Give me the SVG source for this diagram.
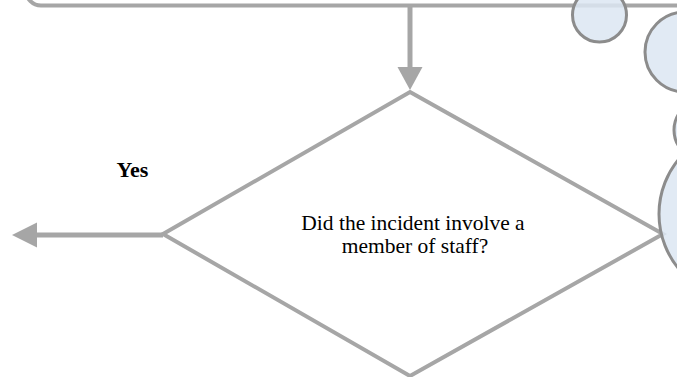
<svg xmlns="http://www.w3.org/2000/svg" width="677" height="377" viewBox="0 0 677 377">
<defs>
<style>
.edge{stroke:#A6A6A6;stroke-width:5;fill:none}
.head{fill:#A6A6A6;stroke:none}
.shape{fill:#FFFFFF;stroke:#A6A6A6;stroke-width:4}
.bubble{fill:#DCE6F2;fill-opacity:0.85;stroke:#8C8C8C;stroke-width:3}
.lbl{font-family:"Liberation Serif","Times New Roman",serif;font-size:21.5px;fill:#000}
.bold{font-weight:bold;font-size:22px}
</style>
</defs>
<rect width="677" height="377" fill="#FFFFFF"/>
<g id="top-box">
<rect class="shape" x="26" y="-100" width="720" height="105.5" rx="15" ry="15"/>
</g>
<g id="decision">
<polygon class="shape" points="410,92 663,234 410,376 163,234"/>
<text class="lbl" text-anchor="middle"><tspan x="413" y="229.5">Did the incident involve a</tspan><tspan x="415" y="252.5">member of staff?</tspan></text>
</g>
<g id="connectors">
<line class="edge" x1="410" y1="6" x2="410" y2="68"/>
<polygon class="head" points="397.5,67 422.5,67 410,90"/>
<line class="edge" x1="163" y1="235" x2="36" y2="235"/>
<polygon class="head" points="12,235 37,222.5 37,247.5"/>
<text class="lbl bold" x="132.5" y="177" text-anchor="middle">Yes</text>
</g>
<g id="bubbles">
<circle class="bubble" cx="599.5" cy="15" r="27"/>
<circle class="bubble" cx="685" cy="52" r="40"/>
<circle class="bubble" cx="704" cy="130" r="30"/>
<circle class="bubble" cx="745" cy="214" r="86"/>
</g>
</svg>
